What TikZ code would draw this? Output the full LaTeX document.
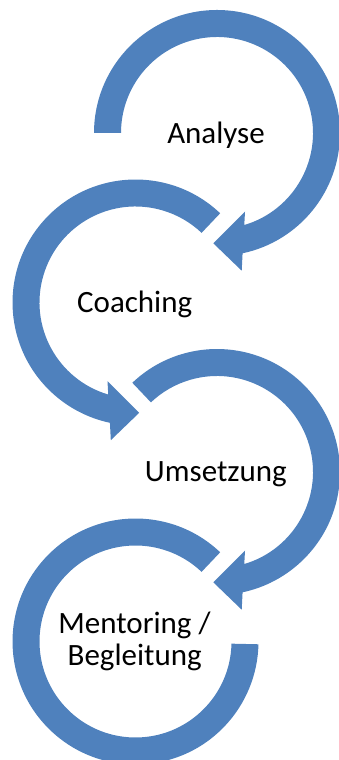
\documentclass[tikz,border=0pt]{standalone}
\usepackage{fontspec}
\setmainfont{Carlito}
\definecolor{ringblue}{HTML}{4F81BD}
\begin{document}
\begin{tikzpicture}[x=1pt,y=1pt,
  ring/.style={fill=ringblue},
  label/.style={font=\fontsize{31}{33}\selectfont, text=black, anchor=base, inner sep=0pt, align=center}]
\useasboundingbox (0,0) rectangle (339,760);
% Arrow 1 (Analyse): from left, clockwise, head at bottom
\begin{scope}[shift={(217,627)}]
  \fill[ring] (180:123) arc[start angle=180,end angle=-78,radius=123]
    -- (24.7,-137.7) -- (-3.7,-110.3) -- (28,-78.7)
    -- (-73.5:96) arc[start angle=-73.5,end angle=180,radius=96] -- cycle;
\end{scope}
% Arrow 2 (Coaching): mirrored
\begin{scope}[shift={(135.5,457.5)},xscale=-1]
  \fill[ring] (133.5:123) arc[start angle=133.5,end angle=-78,radius=123]
    -- (24.7,-137.7) -- (-3.7,-110.3) -- (28,-78.7)
    -- (-73.5:96) arc[start angle=-73.5,end angle=133.5,radius=96] -- cycle;
\end{scope}
% Arrow 3 (Umsetzung)
\begin{scope}[shift={(217,288)}]
  \fill[ring] (133.5:123) arc[start angle=133.5,end angle=-78,radius=123]
    -- (24.7,-137.7) -- (-3.7,-110.3) -- (28,-78.7)
    -- (-73.5:96) arc[start angle=-73.5,end angle=133.5,radius=96] -- cycle;
\end{scope}
% Ring 4 (Mentoring): no head
\begin{scope}[shift={(135.5,118.5)}]
  \fill[ring] (46.5:123) arc[start angle=46.5,end angle=358.7,radius=123]
    -- (358.7:96) arc[start angle=358.7,end angle=46.5,radius=96] -- cycle;
\end{scope}
\node[label] (analyse) at (216,616) {Analyse};
\node[label] (coaching) at (134.7,447.7) {Coaching};
\node[label] (umsetzung) at (215.8,278.3) {Umsetzung};
\node[label] (mentoring) at (134.5,126.7) {Mentoring /};
\node[label] (begleitung) at (134.7,94) {Begleitung};
\end{tikzpicture}
\end{document}
